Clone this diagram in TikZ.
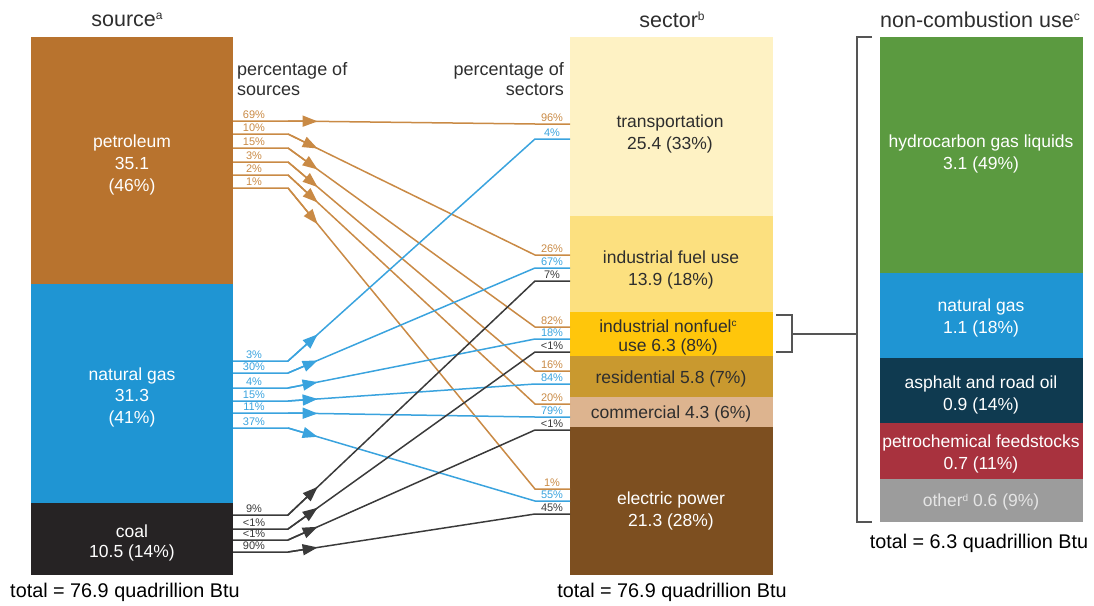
\documentclass[tikz,border=0pt]{standalone}
\usepackage{fontspec}
\setmainfont{Liberation Sans}
\usetikzlibrary{arrows.meta,calc}

\definecolor{petrol}{HTML}{B8732E}
\definecolor{gasblue}{HTML}{1F95D3}
\definecolor{coalblk}{HTML}{262324}
\definecolor{transp}{HTML}{FEF2C4}
\definecolor{indfuel}{HTML}{FCE07F}
\definecolor{nonfuel}{HTML}{FFC60B}
\definecolor{resid}{HTML}{C9992F}
\definecolor{comm}{HTML}{DDB48F}
\definecolor{elec}{HTML}{7D4F20}
\definecolor{hgl}{HTML}{5B9A40}
\definecolor{asph}{HTML}{0F3A50}
\definecolor{petchem}{HTML}{A8323E}
\definecolor{othergray}{HTML}{9C9C9C}
\definecolor{oilline}{HTML}{C98A45}
\definecolor{gasline}{HTML}{3AA3DE}
\definecolor{coalline}{HTML}{3A3A3A}
\definecolor{txt}{HTML}{2E2E2E}
\definecolor{brkgray}{HTML}{555555}

\newcommand{\hsup}[2]{\raisebox{0.32em}{\fontsize{#1}{#1}\selectfont #2}}

\begin{document}
\begin{tikzpicture}[x=1pt,y=-1pt,
    barlabel/.style={align=center, font=\fontsize{17.5}{21.5}\selectfont},
    header/.style={font=\fontsize{21.5}{24}\selectfont, text=txt},
    total/.style={font=\fontsize{19.8}{22}\selectfont, text=black},
    pcthead/.style={inner sep=0pt, font=\fontsize{18}{20}\selectfont, text=txt},
    pct/.style={anchor=base, inner sep=0pt, font=\fontsize{11}{12}\selectfont},
    flow/.style={line width=1.5pt},
    tip/.style={-{Triangle[length=15pt,width=11pt]}},
    brk/.style={brkgray, line width=1.3pt},
    ]
\useasboundingbox (0,0) rectangle (1094,605);

% headers and totals
\node[header] (srchead) at (127,20) {source\hsup{12}{a}};
\node[header] (sechead) at (672,20) {sector\hsup{12}{b}};
\node[header] (nchead) at (980,20) {non-combustion use\hsup{12}{c}};
\node[pcthead, anchor=west, align=left] (pctsrc) at (237,79) {percentage of\\sources};
\node[pcthead, anchor=east, align=right] (pctsec) at (564,79) {percentage of\\sectors};
\node[total] (srctotal) at (125,592) {total = 76.9 quadrillion Btu};
\node[total] (sectotal) at (672,592) {total = 76.9 quadrillion Btu};
\node[total] (nctotal) at (979,543) {total = 6.3 quadrillion Btu};

% source bar
\fill[petrol] (31,37) rectangle (233,284);
\fill[gasblue] (31,284) rectangle (233,503);
\fill[coalblk] (31,503) rectangle (233,575);
\node[barlabel, text=white, font=\fontsize{17.5}{22}\selectfont] (oil) at (132,165) {petroleum\\35.1\\(46\%)};
\node[barlabel, text=white] (gas) at (132,397) {natural gas\\31.3\\(41\%)};
\node[barlabel, text=white, font=\fontsize{17.5}{20}\selectfont] (coal) at (132,543) {coal\\10.5 (14\%)};

% sector bar
\fill[transp] (570,37) rectangle (773,216);
\fill[indfuel] (570,216) rectangle (773,312);
\fill[nonfuel] (570,312) rectangle (773,356);
\fill[resid] (570,356) rectangle (773,397);
\fill[comm] (570,397) rectangle (773,427);
\fill[elec] (570,427) rectangle (773,575);
\node[barlabel, text=txt] (trans) at (670,134) {transportation\\25.4 (33\%)};
\node[barlabel, text=txt] (indf) at (671,270) {industrial fuel use\\13.9 (18\%)};
\node[barlabel, text=txt, font=\fontsize{17.5}{19}\selectfont] (indn) at (668,337) {industrial nonfuel\hsup{10}{c}\\use 6.3 (8\%)};
\node[barlabel, text=txt] (res) at (671,379) {residential 5.8 (7\%)};
\node[barlabel, text=txt] (com) at (671,414) {commercial 4.3 (6\%)};
\node[barlabel, text=white] (pow) at (671,511) {electric power\\21.3 (28\%)};

% non-combustion bar
\fill[hgl] (880,37) rectangle (1083,273);
\fill[gasblue] (880,273) rectangle (1083,358);
\fill[asph] (880,358) rectangle (1083,423);
\fill[petchem] (880,423) rectangle (1083,479);
\fill[othergray] (880,479) rectangle (1083,522);
\node[barlabel, text=white] (hgas) at (981,154) {hydrocarbon gas liquids\\3.1 (49\%)};
\node[barlabel, text=white] (ncgas) at (981,318) {natural gas\\1.1 (18\%)};
\node[barlabel, text=white] (road) at (981,395) {asphalt and road oil\\0.9 (14\%)};
\node[barlabel, text=white] (feed) at (981,454) {petrochemical feedstocks\\0.7 (11\%)};
\node[barlabel, text=white!90!black] (oth) at (981,502) {other\hsup{10}{d} 0.6 (9\%)};

% brackets
\draw[brk] (776,315) -- (792,315) -- (792,352) -- (776,352);
\draw[brk] (792,334) -- (857,334);
\draw[brk] (872,37) -- (857,37) -- (857,522) -- (872,522);

% flows: source y / sector y / source share / sector share
\foreach \ya/\yb/\la/\lb in {121/124/69\%/96\%, 134/255/10\%/26\%, 148/327/15\%/82\%,
    162/371/3\%/16\%, 175/404/2\%/20\%, 188/489/1\%/1\%}
{
  \draw[flow, oilline] (233,\ya) -- (288,\ya) -- (535,\yb) -- (570,\yb);
  \draw[flow, oilline, tip] (288,\ya) -- ($(288,\ya)!0.12!(535,\yb)$);
  \node[pct, text=oilline] at (254,\ya-2.7) {\la};
  \node[pct, text=oilline] at (552,\yb-3) {\lb};
}
\foreach \ya/\yb/\la/\lb in {361/139/3\%/4\%, 373/268/30\%/67\%, 388/339/4\%/18\%,
    401/384/15\%/84\%, 413/417/11\%/79\%, 428/501/37\%/55\%}
{
  \draw[flow, gasline] (233,\ya) -- (288,\ya) -- (535,\yb) -- (570,\yb);
  \draw[flow, gasline, tip] (288,\ya) -- ($(288,\ya)!0.12!(535,\yb)$);
  \node[pct, text=gasline] at (254,\ya-2.7) {\la};
  \node[pct, text=gasline] at (552,\yb-3) {\lb};
}
\foreach \ya/\yb/\la/\lb in {515/281/9\%/7\%, 529/352/<1\%/<1\%, 540/430/<1\%/<1\%,
    552/514/90\%/45\%}
{
  \draw[flow, coalline] (233,\ya) -- (288,\ya) -- (535,\yb) -- (570,\yb);
  \draw[flow, coalline, tip] (288,\ya) -- ($(288,\ya)!0.12!(535,\yb)$);
  \node[pct, text=coalline] at (254,\ya-2.7) {\la};
  \node[pct, text=coalline] at (552,\yb-3) {\lb};
}
\end{tikzpicture}
\end{document}
